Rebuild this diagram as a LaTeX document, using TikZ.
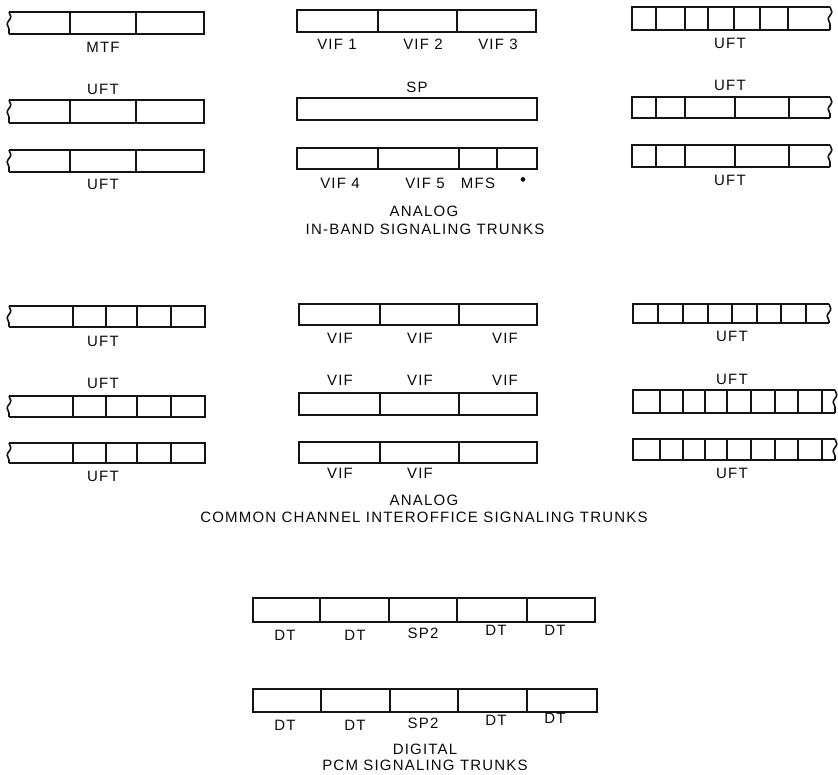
\documentclass[tikz,border=0pt]{standalone}
\usepackage{fontspec}
\setmainfont{Liberation Sans}[LetterSpace=8]
\usepackage{tikz}
\usetikzlibrary{decorations.pathmorphing}
\definecolor{c_line}{HTML}{141414}
\definecolor{c_text}{HTML}{0A0A0A}
\tikzset{wavy/.style={decorate, decoration={snake, amplitude=1.8pt, segment length=15pt}}}
% plain strip: x1, y1, x2, y2, dividers
\newcommand\TrunkBox[5]{
	\draw (#1,#2) rectangle (#3,#4);
	\foreach \d in {#5}
		\draw (\d,#2) -- (\d,#4);
}
% strip broken on the left
\newcommand\TrunkBoxL[5]{
	\draw (#1,#2) -- (#3,#2) -- (#3,#4) -- (#1,#4);
	\draw [wavy] (#1,#2) -- (#1,#4);
	\foreach \d in {#5}
		\draw (\d,#2) -- (\d,#4);
}
% strip broken on the right
\newcommand\TrunkBoxR[5]{
	\draw (#3,#2) -- (#1,#2) -- (#1,#4) -- (#3,#4);
	\draw [wavy] (#3,#2) -- (#3,#4);
	\foreach \d in {#5}
		\draw (\d,#2) -- (\d,#4);
}
\begin{document}
\begin{tikzpicture}
[x=1pt,y=-1pt,line width=1.6pt,color=c_line,font=\fontsize{15}{17}\selectfont,every node/.style={text=c_text,inner sep=0pt}]
	\useasboundingbox (0,0) rectangle (838,775);

	% analog, in-band
	\TrunkBoxL{9}{12}{204}{34}{70,136}
	\TrunkBoxL{9}{100}{204}{123}{70,136}
	\TrunkBoxL{9}{150}{204}{172}{70,136}
	\node (mtf) at (103,47) {MTF};
	\node (uftA) at (103,89) {UFT};
	\node (uftB) at (103,184) {UFT};

	\TrunkBox{297}{10}{536}{32}{378,457}
	\draw (297,98) rectangle (537,120);
	\TrunkBox{297}{148}{537}{169}{378,459,497}
	\node (vif1) at (337,44) {VIF 1};
	\node (vif2) at (423,44) {VIF 2};
	\node (vif3) at (498,44) {VIF 3};
	\node (sp) at (417,87) {SP};
	\node (vif4) at (340,183) {VIF 4};
	\node (vif5) at (425,183) {VIF 5};
	\node (mfs) at (478,183) {MFS};
	\node (star) at (523,182) {\fontsize{17}{17}\selectfont •};

	\TrunkBoxR{632}{7}{830}{30}{656,685,708,734,760,788}
	\TrunkBoxR{632}{97}{830}{118}{656,685,735,789}
	\TrunkBoxR{632}{145}{830}{167}{656,685,735,789}
	\node (uftC) at (730,43) {UFT};
	\node (uftD) at (730,85) {UFT};
	\node (uftE) at (730,180) {UFT};

	\node (analogA) at (424,211) {ANALOG};
	\node (inband) at (425,229) {IN-BAND SIGNALING TRUNKS};

	% analog, common channel
	\TrunkBoxL{9}{306}{205}{327}{73,106,137,171}
	\TrunkBoxL{9}{396}{205}{417}{73,106,137,171}
	\TrunkBoxL{9}{443}{205}{463}{73,106,137,171}
	\node (uftF) at (103,341) {UFT};
	\node (uftG) at (103,383) {UFT};
	\node (uftH) at (103,476) {UFT};

	\TrunkBox{299}{304}{537}{325}{380,459}
	\TrunkBox{299}{393}{537}{415}{380,459}
	\TrunkBox{299}{442}{537}{463}{380,459}
	\foreach \x/\n in {340/a,420/b,505/c}
		\node (vifT\n) at (\x,338) {VIF};
	\foreach \x/\n in {340/a,420/b,505/c}
		\node (vifM\n) at (\x,380) {VIF};
	\foreach \x/\n in {340/a,420/b}
		\node (vifB\n) at (\x,473) {VIF};

	\TrunkBoxR{633}{304}{829}{323}{658,683,708,732,757,781,806}
	\TrunkBoxR{633}{390}{835}{413}{660,683,705,727,751,775,798,822}
	\TrunkBoxR{633}{439}{835}{460}{660,683,705,727,751,775,798,822}
	\node (uftI) at (732,336) {UFT};
	\node (uftJ) at (732,379) {UFT};
	\node (uftK) at (732,473) {UFT};

	\node (analogB) at (424,500) {ANALOG};
	\node (ccis) at (424,517) {COMMON CHANNEL INTEROFFICE SIGNALING TRUNKS};

	% digital
	\TrunkBox{253}{598}{595}{622}{320,389,457,527}
	\TrunkBox{253}{689}{597}{712}{321,390,458,527}
	\node (dtA) at (285,635) {DT};
	\node (dtB) at (355,635) {DT};
	\node (spA) at (423,633) {SP2};
	\node (dtC) at (496,630) {DT};
	\node (dtD) at (555,630) {DT};
	\node (dtE) at (285,725) {DT};
	\node (dtF) at (355,725) {DT};
	\node (spB) at (423,723) {SP2};
	\node (dtG) at (496,720) {DT};
	\node (dtH) at (555,718) {DT};

	\node (digital) at (425,749) {DIGITAL};
	\node (pcm) at (425,765) {PCM SIGNALING TRUNKS};

\end{tikzpicture}
\end{document}
